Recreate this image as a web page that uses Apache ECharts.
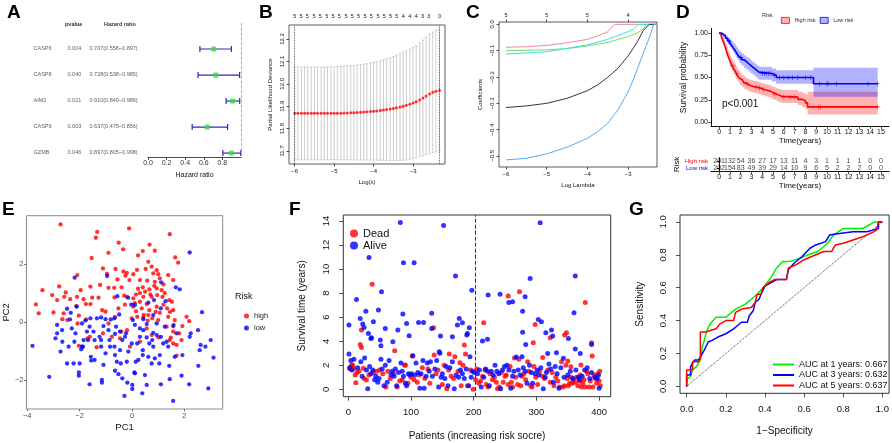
<!DOCTYPE html>
<html>
<head>
<meta charset="utf-8">
<title>Risk signature figure</title>
<script src="https://cdn.jsdelivr.net/npm/echarts@6.0.0/dist/echarts.min.js"></script>
<style>
  html, body { margin: 0; padding: 0; background: #fff; }
  #main { width: 892px; height: 443px; }
</style>
</head>
<body>
<div id="main"></div>
<script type="text/javascript">
var FONT = "'Liberation Sans', Arial, Helvetica, sans-serif";

// A: univariate cox
var genes = ['CASP6', 'CASP8', 'AIM2', 'CASP9', 'GZMB'];
var pvals = ['0.004', '0.040', '0.021', '0.003', '0.046'];
var hr = [0.707, 0.728, 0.910, 0.637, 0.897];
var hrLow = [0.558, 0.538, 0.840, 0.475, 0.805];
var hrHigh = [0.897, 0.985, 0.986, 0.856, 0.998];
var hrTicks = [0, 0.2, 0.4, 0.6, 0.8];

// B: cv.glmnet deviance
var logLambdaB = [-6.00,-5.92,-5.83,-5.75,-5.67,-5.58,-5.50,-5.42,-5.33,-5.25,-5.17,-5.08,-5.00,-4.92,-4.83,-4.75,-4.67,-4.58,-4.50,-4.42,-4.33,-4.25,-4.17,-4.08,-4.00,-3.92,-3.83,-3.75,-3.67,-3.58,-3.50,-3.42,-3.33,-3.25,-3.17,-3.08,-3.00,-2.92,-2.83,-2.75,-2.67,-2.58,-2.50,-2.42,-2.33];
var meanB = [11.868,11.868,11.868,11.868,11.868,11.868,11.868,11.868,11.868,11.868,11.868,11.869,11.869,11.869,11.869,11.870,11.870,11.871,11.871,11.872,11.873,11.874,11.875,11.876,11.878,11.879,11.881,11.883,11.885,11.887,11.890,11.893,11.896,11.900,11.904,11.909,11.914,11.920,11.928,11.937,11.946,11.955,11.962,11.967,11.970];
var sdB = [0.207,0.207,0.207,0.207,0.207,0.207,0.207,0.207,0.207,0.207,0.207,0.207,0.207,0.208,0.208,0.209,0.209,0.210,0.211,0.212,0.213,0.214,0.215,0.217,0.218,0.220,0.222,0.224,0.227,0.229,0.232,0.235,0.238,0.241,0.244,0.246,0.247,0.250,0.253,0.258,0.263,0.267,0.269,0.271,0.272];
var topLambdaB = [-6.00,-5.84,-5.68,-5.51,-5.35,-5.19,-5.03,-4.87,-4.70,-4.54,-4.38,-4.22,-4.06,-3.89,-3.73,-3.57,-3.41,-3.25,-3.08,-2.92,-2.76,-2.60,-2.33];
var topDfB = [5,5,5,5,5,5,5,5,5,5,5,5,5,5,5,5,5,4,4,4,3,3,0];
var lambdaMinB = -6.00;
var lambda1seB = -2.33;

// C: coefficient paths
var pathBlack = [[-6,-0.316],[-5.5,-0.310],[-5,-0.300],[-4.5,-0.281],[-4,-0.252],[-3.75,-0.230],[-3.5,-0.201],[-3.25,-0.167],[-3,-0.120],[-2.875,-0.091],[-2.75,-0.060],[-2.63,-0.024],[-2.48,0],[-2.29,0]];
var pathPink = [[-6,-0.087],[-5.5,-0.085],[-5,-0.080],[-4.5,-0.070],[-4,-0.057],[-3.75,-0.044],[-3.5,-0.028],[-3.33,0],[-2.29,0]];
var pathGreen = [[-6,-0.100],[-5,-0.097],[-4.5,-0.092],[-4,-0.082],[-3.5,-0.068],[-3,-0.047],[-2.75,-0.030],[-2.63,-0.019],[-2.55,0],[-2.29,0]];
var pathBlue = [[-6,-0.515],[-5.5,-0.509],[-5,-0.492],[-4.5,-0.467],[-4,-0.433],[-3.75,-0.408],[-3.5,-0.376],[-3.25,-0.325],[-3,-0.256],[-2.875,-0.211],[-2.75,-0.161],[-2.63,-0.110],[-2.5,-0.060],[-2.37,0],[-2.29,0]];
var pathCyan = [[-6,-0.113],[-5,-0.104],[-4.5,-0.091],[-4,-0.078],[-3.5,-0.057],[-3.25,-0.042],[-3,-0.028],[-2.875,-0.019],[-2.75,0],[-2.29,0]];
var topLambdaC = [-6, -5, -4, -3];
var topDfC = [5, 5, 5, 4];

// D: Kaplan-Meier
var highKM = [[0,1],[0.1,0.985],[0.2,0.96],[0.3,0.93],[0.4,0.9],[0.5,0.865],[0.6,0.83],[0.7,0.79],[0.8,0.75],[0.9,0.72],[1.0,0.69],[1.1,0.66],[1.2,0.63],[1.35,0.60],[1.5,0.57],[1.6,0.545],[1.75,0.515],[1.9,0.49],[2.0,0.475],[2.15,0.455],[2.3,0.44],[2.5,0.425],[2.7,0.41],[2.9,0.40],[3.2,0.39],[3.6,0.38],[3.9,0.365],[4.2,0.355],[4.5,0.345],[4.8,0.33],[5.0,0.315],[5.3,0.305],[5.5,0.29],[5.8,0.28],[7.3,0.255],[7.7,0.24],[8.0,0.215],[8.2,0.17],[14.7,0.17]];
var highLower = [1,0.97,0.93,0.90,0.86,0.82,0.78,0.74,0.70,0.66,0.63,0.60,0.57,0.54,0.50,0.48,0.45,0.425,0.41,0.39,0.375,0.36,0.345,0.335,0.325,0.315,0.30,0.29,0.28,0.265,0.25,0.24,0.225,0.215,0.19,0.17,0.145,0.085,0.085];
var highUpper = [1,1,0.99,0.97,0.94,0.91,0.88,0.85,0.81,0.78,0.75,0.73,0.70,0.67,0.64,0.615,0.585,0.56,0.545,0.525,0.51,0.495,0.48,0.47,0.46,0.45,0.435,0.425,0.415,0.405,0.39,0.38,0.37,0.36,0.34,0.33,0.31,0.34,0.34];
var lowKM = [[0,1],[0.2,0.985],[0.4,0.965],[0.6,0.94],[0.8,0.91],[1.0,0.885],[1.15,0.86],[1.3,0.835],[1.45,0.81],[1.6,0.78],[1.75,0.75],[1.9,0.725],[2.1,0.70],[2.3,0.68],[2.5,0.66],[2.7,0.64],[2.9,0.62],[3.1,0.60],[3.3,0.58],[3.5,0.56],[3.7,0.545],[4.9,0.525],[5.3,0.50],[8.75,0.43],[14.7,0.43]];
var lowLower = [1,0.965,0.94,0.91,0.87,0.84,0.81,0.78,0.75,0.72,0.69,0.66,0.635,0.61,0.59,0.57,0.55,0.53,0.51,0.49,0.475,0.455,0.43,0.285,0.285];
var lowUpper = [1,1,0.99,0.975,0.95,0.93,0.91,0.89,0.87,0.84,0.815,0.79,0.77,0.75,0.73,0.715,0.695,0.675,0.655,0.635,0.62,0.60,0.58,0.61,0.61];
var highCensor = [[1.25,0.63],[1.65,0.545],[2.6,0.425],[3.4,0.39],[3.75,0.38],[4.1,0.365],[5.15,0.315],[6.0,0.28],[6.6,0.28],[7.0,0.28],[9.2,0.17],[9.4,0.17],[14.7,0.17]];
var lowCensor = [[0.9,0.91],[2.0,0.725],[4.0,0.545],[4.2,0.545],[4.4,0.545],[4.6,0.545],[4.8,0.545],[5.1,0.525],[5.6,0.50],[6.0,0.50],[6.4,0.50],[6.8,0.50],[7.3,0.50],[8.0,0.50],[8.5,0.50],[9.3,0.43],[10.0,0.43],[10.1,0.43],[10.9,0.43],[13.8,0.43],[14.7,0.43]];
var riskTimes = [0,1,2,3,4,5,6,7,8,9,10,11,12,13,14,15];
var highAtRisk = [201,132,54,36,27,17,13,11,4,3,1,1,1,1,0,0];
var lowAtRisk = [202,154,83,49,39,29,14,10,9,6,5,2,2,2,0,0];

// E: PCA
var highPts = [[-2.73,3.37],[-0.11,3.23],[-1.33,3.11],[-1.38,2.91],[1.44,3.03],[-0.51,2.74],[0.67,2.67],[-0.34,2.51],[0.41,2.45],[0.87,2.46],[-0.90,2.39],[0.23,2.30],[-1.54,2.21],[1.65,2.23],[1.76,2.05],[0.62,2.08],[0.75,1.91],[-1.11,1.85],[-0.63,1.83],[-2.09,1.62],[-0.96,1.66],[-0.33,1.74],[-0.20,1.70],[-0.25,1.60],[0.19,1.80],[0.52,1.83],[0.94,1.79],[1.38,1.62],[0.81,1.68],[1.06,1.51],[-0.56,1.47],[0.30,1.45],[0.58,1.43],[0.87,1.39],[1.57,1.45],[-2.78,1.23],[-3.42,1.10],[-1.96,1.10],[-0.90,1.18],[-0.68,1.18],[0.23,1.15],[0.41,1.20],[0.66,1.13],[0.94,1.16],[1.13,1.10],[-2.53,1.02],[-2.59,0.87],[-2.10,0.87],[-2.36,0.79],[-1.85,0.79],[-1.52,0.84],[-1.28,0.84],[-0.67,0.85],[-0.30,0.91],[-0.20,0.87],[0.05,0.82],[0.43,0.87],[0.75,0.87],[0.96,0.93],[1.16,0.87],[1.42,0.76],[1.52,0.70],[-3.67,0.61],[-3.56,0.30],[-3.00,0.33],[-2.66,0.10],[-1.76,0.62],[-1.59,0.62],[-2.13,0.55],[-1.14,0.41],[-1.01,0.36],[-0.52,0.47],[-0.27,0.60],[0.05,0.53],[0.15,0.37],[0.37,0.47],[0.56,0.62],[0.66,0.41],[0.94,0.53],[1.06,0.32],[1.34,0.47],[1.57,0.41],[-2.03,0.22],[-2.47,0.07],[-1.75,0.09],[-0.65,0.18],[-0.01,0.13],[0.20,0.18],[0.43,0.16],[0.62,0.24],[0.77,0.13],[1.00,0.07],[1.38,0.18],[1.63,0.07],[2.08,0.18],[2.18,0.03],[1.92,-0.14],[1.59,-0.10],[-2.08,-0.05],[-0.90,-0.05],[-0.19,-0.28],[-1.61,-0.51],[-1.70,-0.56],[-1.11,-0.39],[-0.77,-0.51],[-0.46,-0.56],[-0.41,-0.33],[0.30,-0.68],[0.75,-0.45],[1.01,-0.53],[1.44,-0.62],[1.57,-0.74],[1.80,-0.39],[1.70,-0.79],[-2.03,-0.82],[-1.35,-0.87],[1.48,-0.54],[1.70,-1.16],[1.89,-0.62],[-0.08,-0.85],[-2.61,0.30],[-1.59,1.22],[-1.22,1.28],[-2.86,0.76],[-3.05,0.93],[0.56,-0.22],[1.32,-0.16],[1.57,-0.33],[0.30,1.00],[0.50,1.05],[0.70,0.95],[0.85,1.25],[1.20,1.30],[0.10,0.65],[0.30,0.70],[0.90,0.35],[1.20,0.60],[1.45,0.35],[0.45,0.25],[0.60,0.05],[-0.40,1.20],[-0.10,1.45],[0.05,1.65],[1.00,1.65],[1.25,1.00],[0.15,0.95]];
var lowPts = [[2.20,2.40],[-2.19,1.53],[-0.95,1.59],[1.11,1.37],[1.67,1.20],[1.82,1.13],[-0.56,0.89],[-0.15,0.84],[0.84,0.76],[1.28,0.72],[2.67,0.34],[-2.48,0.46],[-2.11,0.53],[-2.34,0.32],[-2.37,0.09],[-2.86,-0.10],[-2.92,-0.56],[-3.80,-0.82],[-2.66,-0.68],[-2.73,-1.02],[-3.16,-1.89],[-2.48,-1.43],[-2.23,-1.43],[-2.00,-1.43],[-2.03,-1.74],[-2.03,-1.85],[-1.62,-2.15],[-1.15,-2.00],[-1.15,-2.09],[-1.56,-1.33],[-1.57,-1.20],[-1.43,-1.31],[-1.09,-1.48],[-1.01,-1.08],[-2.16,-0.39],[-2.20,-0.68],[-1.91,-0.85],[-1.94,-0.94],[-1.85,-0.62],[-1.72,-0.33],[-1.62,-0.16],[-1.47,-0.33],[-1.34,0.13],[-1.18,0.16],[-1.24,-0.51],[-1.18,-0.62],[-1.43,-0.62],[-1.18,-0.85],[-0.86,-0.62],[-0.84,-0.85],[-0.67,-0.85],[-0.65,-1.14],[-0.46,-0.97],[-0.58,-1.37],[-0.43,-1.43],[-0.65,-1.68],[-0.52,-1.80],[-0.37,-1.94],[-0.18,-2.09],[-0.29,-2.55],[0.01,-2.17],[0.01,-2.31],[0.39,-2.46],[0.56,-2.17],[0.09,-1.74],[0.11,-1.77],[0.49,-1.83],[0.75,-1.43],[1.04,-1.43],[1.10,-2.15],[1.57,-2.72],[1.44,-1.97],[1.89,-1.85],[2.18,-2.15],[2.53,-1.51],[2.91,-2.29],[3.11,-1.23],[3.00,-0.62],[2.80,-0.85],[2.58,-0.97],[2.62,-0.79],[2.52,-0.28],[2.24,-0.39],[2.20,-0.51],[1.92,-1.14],[1.42,-1.51],[0.87,-1.25],[1.06,-1.14],[0.62,-1.20],[0.41,-1.14],[0.41,-0.97],[0.24,-1.31],[0.14,-1.37],[-0.20,-1.37],[-0.14,-1.02],[-0.01,-0.74],[0.20,-0.74],[0.30,-0.51],[0.56,-0.53],[0.81,-0.37],[1.10,-0.51],[1.32,-0.68],[1.19,-0.74],[1.38,-0.85],[1.70,-0.39],[1.57,-0.14],[0.77,-0.62],[0.66,-0.74],[0.30,-0.22],[0.11,-0.10],[0.03,0.07],[0.56,-0.07],[0.43,0.10],[0.81,0.24],[0.94,-0.05],[1.25,-0.16],[1.10,0.47],[0.62,0.67],[-0.03,0.60],[0.11,0.59],[-0.49,0.26],[-0.67,0.13],[-0.81,0.09],[-0.61,-0.16],[-0.90,-0.28],[-0.46,-0.33],[-0.65,-0.41],[-0.27,-0.51],[-0.37,-0.62],[-1.09,-0.14],[-1.01,0.10],[-1.59,0.13],[-1.78,0.05],[-1.91,-0.05],[-1.68,-0.62],[-1.87,-0.85],[-2.42,-0.85],[-2.30,-0.22],[-2.86,-0.39],[-2.67,-0.28],[0.81,-0.85],[-0.23,-0.39],[1.63,-1.20],[0.94,-0.45],[0.43,-0.28]];

// F: survival status by risk rank
var deadPts = [[38,8.75],[19,3.74],[21,3.49],[21,4.93],[12,0.55],[11,1.19],[9,1.75],[7,2.02],[24,1.75],[29,0.78],[74,3.21],[91,2.02],[102,2.77],[136,5.12],[137,2.85],[161,2.94],[170,2.71],[178,2.22],[185,3.68],[187,2.94],[216,5.54],[255,7.76],[273,8.12],[295,3.88],[298,5.40],[310,2.66],[322,4.29],[345,4.52],[348,4.71],[378,7.23],[388,3.88],[389,2.77],[350,2.35],[355,1.88],[371,2.02],
  [3,1.7],[5,2.0],[14,1.4],[17,1.5],[25,0.9],[33,1.2],[40,1.4],[45,1.5],[50,1.6],[55,1.3],[60,0.2],[63,1.5],[67,0.9],[72,1.3],[78,0.2],[82,0.7],[86,0.8],[90,2.0],[95,0.5],[100,1.0],[105,0.8],[110,0.6],[113,1.2],[118,1.8],[122,0.9],[127,1.7],[130,0.5],[140,1.3],[143,1.6],[150,0.4],[153,2.0],[157,0.05],[160,1.6],[164,1.1],[168,0.9],[175,1.5],[180,0.3],[183,2.0],[190,0.3],[195,1.6],[199,0.0],[203,0.8],
  [205,1.7],[208,0.5],[211,0.7],[214,1.1],[218,1.6],[220,0.4],[223,0.2],[226,1.3],[230,0.8],[233,1.0],[236,0.6],[238,0.05],[241,0.2],[244,1.4],[247,0.6],[250,1.1],[252,1.2],[255,0.4],[258,1.9],[260,0.6],[262,0.2],[265,2.6],[267,1.0],[270,0.4],[272,2.5],[275,0.3],[277,1.1],[280,1.3],[283,0.8],[286,2.3],[288,1.5],[291,0.3],[293,0.2],[296,1.9],[299,1.0],[302,0.4],[305,1.5],[310,1.1],[313,0.9],[318,1.6],[322,0.6],[325,1.4],[328,0.3],[331,1.0],[334,0.7],[337,0.2],[340,2.3],[342,0.2],[345,0.3],[347,2.0],[349,0.9],[351,0.3],[353,0.5],[355,1.0],[357,0.5],[359,0.8],[361,0.6],[364,1.0],[366,0.3],[368,0.7],[370,1.2],[372,0.2],[374,0.5],[376,0.8],[378,0.2],[380,1.5],[382,1.3],[384,0.2],[386,0.7],[390,0.2],[392,1.2],[394,0.9],[396,0.5],[398,1.3],[400,0.7],[401,1.5],[402,0.3]];
var alivePts = [[1,5.35],[1,2.94],[13,7.48],[19,5.90],[23,5.43],[25,5.15],[28,6.50],[33,10.97],[32,4.65],[36,4.24],[37,4.30],[40,5.62],[48,6.60],[51,4.10],[52,3.63],[53,8.12],[59,5.07],[71,3.96],[79,4.93],[83,13.88],[87,6.26],[88,10.53],[93,5.48],[97,4.46],[105,10.53],[112,5.57],[120,5.57],[133,6.32],[133,5.07],[145,3.13],[147,4.43],[152,13.63],[166,4.38],[171,9.42],[174,5.35],[177,5.90],[182,5.54],[190,4.65],[193,5.12],[194,2.71],[197,8.25],[189,4.52],[214,4.02],[222,4.16],[223,7.84],[242,7.92],[256,7.23],[262,7.28],[278,4.74],[278,6.50],[282,7.70],[283,3.74],[290,9.22],[303,5.82],[308,5.62],[306,13.85],[315,4.70],[318,2.99],[324,4.93],[326,4.43],[332,3.05],[343,2.58],[351,4.24],[360,6.37],[362,9.42],[362,3.35],[370,2.99],[388,3.74],[277,2.71],
  [2,1.8],[4,2.4],[6,1.6],[9,2.5],[15,1.8],[20,2.3],[22,1.1],[26,2.6],[29,1.6],[31,0.05],[34,1.9],[36,1.3],[39,1.6],[42,0.8],[44,1.1],[47,0.6],[49,0.9],[52,2.5],[54,1.7],[57,0.3],[59,2.0],[62,0.6],[65,2.4],[68,1.2],[70,1.5],[73,1.1],[75,1.7],[77,0.3],[80,1.4],[84,2.2],[86,1.5],[88,1.1],[91,0.5],[93,0.3],[96,1.3],[98,1.2],[101,1.3],[103,2.8],[106,1.2],[108,2.2],[111,1.4],[114,0.1],[116,1.3],[119,2.4],[121,0.1],[124,1.1],[126,2.2],[129,1.5],[131,2.3],[134,1.1],[138,1.7],[141,2.4],[144,0.2],[146,3.0],[148,1.0],[150,1.3],[154,0.9],[156,1.9],[159,0.3],[162,1.8],[166,2.3],[169,0.05],[172,1.2],[176,1.0],[179,1.6],[182,1.3],[185,0.9],[188,1.7],[192,0.3],[196,1.0],[198,1.5],[201,1.4],
  [206,1.3],[209,1.6],[212,0.2],[216,1.0],[219,1.7],[222,1.5],[225,0.3],[228,1.5],[231,1.2],[234,2.0],[237,1.5],[240,1.3],[243,0.05],[246,1.6],[249,1.9],[253,2.0],[256,1.6],[259,0.1],[262,1.1],[264,1.5],[268,2.7],[271,1.6],[274,1.2],[279,1.8],[282,1.5],[285,0.5],[289,2.0],[292,1.4],[294,0.5],[298,1.3],[301,1.6],[304,1.2],[307,1.8],[311,0.05],[314,1.0],[316,1.4],[320,2.1],[323,1.7],[327,0.6],[330,1.9],[333,1.3],[336,0.1],[339,1.8],[344,1.0],[350,1.2],[354,1.5],[358,0.9],[363,1.6],[367,1.0],[369,0.8],[373,1.1],[377,1.6],[381,1.8],[385,0.9],[388,1.4],[393,1.0],[397,0.9],[399,1.2],[400,0.1]];
var cutoffF = 202;

// G: time-dependent ROC
var roc1 = [[0,0],[0,0.04],[0.02,0.06],[0.03,0.10],[0.05,0.12],[0.07,0.16],[0.08,0.24],[0.09,0.28],[0.10,0.33],[0.12,0.38],[0.15,0.42],[0.20,0.42],[0.22,0.44],[0.25,0.47],[0.30,0.50],[0.33,0.53],[0.36,0.56],[0.39,0.60],[0.41,0.63],[0.43,0.66],[0.46,0.72],[0.49,0.76],[0.53,0.76],[0.58,0.78],[0.62,0.80],[0.67,0.82],[0.72,0.87],[0.75,0.92],[0.80,0.96],[0.90,0.96],[0.93,0.98],[0.96,1.0],[1.0,1.0]];
var roc3 = [[0,0],[0,0.07],[0.02,0.07],[0.02,0.12],[0.04,0.16],[0.06,0.16],[0.07,0.18],[0.09,0.22],[0.10,0.22],[0.11,0.27],[0.13,0.28],[0.16,0.30],[0.20,0.32],[0.24,0.35],[0.26,0.37],[0.28,0.39],[0.31,0.39],[0.32,0.43],[0.34,0.46],[0.35,0.51],[0.37,0.53],[0.38,0.56],[0.40,0.61],[0.43,0.63],[0.46,0.65],[0.51,0.65],[0.52,0.71],[0.55,0.75],[0.59,0.79],[0.63,0.84],[0.66,0.86],[0.71,0.88],[0.73,0.92],[0.78,0.93],[0.85,0.94],[0.92,0.94],[0.95,0.95],[0.98,0.96],[0.98,1.0],[1,1]];
var roc5 = [[0,0],[0,0.10],[0.03,0.10],[0.03,0.15],[0.06,0.15],[0.07,0.17],[0.07,0.33],[0.10,0.33],[0.12,0.34],[0.15,0.35],[0.17,0.38],[0.20,0.40],[0.24,0.40],[0.25,0.45],[0.28,0.47],[0.33,0.48],[0.35,0.51],[0.36,0.56],[0.38,0.56],[0.39,0.60],[0.42,0.63],[0.45,0.65],[0.51,0.65],[0.52,0.72],[0.56,0.74],[0.60,0.77],[0.66,0.80],[0.70,0.82],[0.74,0.82],[0.76,0.86],[0.80,0.87],[0.85,0.89],[0.90,0.91],[0.94,0.93],[0.97,0.95],[0.98,1.0],[1,1]];
var rocNames = ['AUC at 1 years: 0.667', 'AUC at 3 years: 0.632', 'AUC at 5 years: 0.637'];
var diagRef = [[0,0],[1,1]];

function neg(v, digits) {
  var s = digits === undefined ? String(v) : v.toFixed(digits);
  return s.replace('-', '\u2212');
}

function valAxis(o) {
  return {
    type: 'value', gridIndex: o.grid, min: o.min, max: o.max,
    position: o.position, inverse: !!o.inverse, show: o.show !== false,
    splitLine: { show: false },
    axisLine: { show: !!o.line, onZero: false, lineStyle: { color: o.lineColor || '#222', width: o.lineWidth || 1 } },
    axisTick: { show: o.tickLen !== 0, customValues: o.ticks, length: o.tickLen || 3, lineStyle: { color: o.tickColor || '#222', width: 0.8 } },
    axisLabel: { customValues: o.labels || o.ticks, formatter: o.fmt, fontSize: o.fs, margin: o.margin, color: o.labelColor || '#111', rotate: o.rotate || 0, fontFamily: FONT },
    name: o.name, nameLocation: 'middle', nameGap: o.nameGap,
    nameTextStyle: { fontSize: o.nfs, color: '#111', fontFamily: FONT }
  };
}

function textColumn(texts, dx) {
  return {
    type: 'scatter', xAxisIndex: 0, yAxisIndex: 0, symbolSize: 1, silent: true,
    itemStyle: { color: 'rgba(0,0,0,0)' },
    data: texts.map(function (t, i) { return { name: t, value: [0, i + 1] }; }),
    label: { show: true, formatter: '{b}', position: [dx, 0], align: 'left', verticalAlign: 'middle', fontSize: 5.5, color: '#333', fontFamily: FONT }
  };
}

function bandSeries(km, lower, upper, color, xi, yi) {
  return {
    type: 'custom', xAxisIndex: xi, yAxisIndex: yi, silent: true, z: 1,
    data: [0],
    renderItem: function (params, api) {
      var top = [], bot = [];
      for (var i = 0; i < km.length - 1; i++) {
        var t0 = km[i][0], t1 = km[i + 1][0];
        top.push(api.coord([t0, upper[i]]), api.coord([t1, upper[i]]));
        bot.push(api.coord([t0, lower[i]]), api.coord([t1, lower[i]]));
      }
      var pts = top.concat(bot.reverse());
      return { type: 'polygon', shape: { points: pts }, style: { fill: color } };
    }
  };
}

function riskRow(counts, row) {
  return {
    type: 'scatter', xAxisIndex: 6, yAxisIndex: 4, symbolSize: 1, silent: true, itemStyle: { color: 'rgba(0,0,0,0)' },
    data: riskTimes.map(function (t, i) { return [t, row, counts[i]]; }),
    label: { show: true, position: 'inside', fontSize: 7, color: '#111', fontFamily: FONT, formatter: function (p) { return p.value[2]; } }
  };
}

var plusSymbol = 'path://M-0.6,-5h1.2v4.4h4.4v1.2h-4.4v4.4h-1.2v-4.4h-4.4v-1.2h4.4z';

var option = {
  animation: false,
  backgroundColor: '#fff',
  textStyle: { fontFamily: FONT },
  grid: [
    { left: 148, top: 23, width: 93, height: 134 },
    { left: 289, top: 25, width: 156, height: 139, show: true, borderColor: '#333', borderWidth: 0.8, backgroundColor: 'transparent' },
    { left: 499, top: 22, width: 158, height: 145, show: true, borderColor: '#333', borderWidth: 0.8, backgroundColor: 'transparent' },
    { left: 711, top: 28.5, width: 178, height: 98 },
    { left: 711, top: 157.5, width: 178, height: 14 },
    { left: 25.7, top: 215.7, width: 197, height: 193.3, show: true, borderColor: '#8a8a8a', borderWidth: 1, backgroundColor: 'transparent' },
    { left: 343.3, top: 215, width: 267.4, height: 181.7, show: true, borderColor: '#333', borderWidth: 1, backgroundColor: 'transparent' },
    { left: 680, top: 215, width: 210, height: 178.3, show: true, borderColor: '#333', borderWidth: 1, backgroundColor: 'transparent' }
  ],
  xAxis: [
    valAxis({ grid: 0, min: 0, max: 1, line: true, lineWidth: 0.8, ticks: hrTicks, tickLen: 3, fmt: function (v) { return v.toFixed(1); }, fs: 7, margin: 3, name: 'Hazard ratio', nameGap: 15, nfs: 7, labelColor: '#333' }),
    valAxis({ grid: 1, min: -6.145, max: -2.19, ticks: [-6, -5, -4, -3], tickLen: 2.5, fmt: function (v) { return neg(v); }, fs: 6, margin: 4, name: 'Log(\u03bb)', nameGap: 15, nfs: 6 }),
    valAxis({ grid: 1, position: 'top', min: -6.145, max: -2.19, ticks: topLambdaB, tickLen: 0, fmt: function (v) {
      for (var i = 0; i < topLambdaB.length; i++) { if (Math.abs(topLambdaB[i] - v) < 1e-6) return String(topDfB[i]); }
      return '';
    }, fs: 5.5, margin: 6 }),
    valAxis({ grid: 2, min: -6.172, max: -2.29, ticks: [-6, -5, -4, -3], tickLen: 2.5, fmt: function (v) { return neg(v); }, fs: 6, margin: 4, name: 'Log Lambda', nameGap: 15, nfs: 6 }),
    valAxis({ grid: 2, position: 'top', min: -6.172, max: -2.29, ticks: topLambdaC, tickLen: 2.5, fmt: function (v) {
      var i = topLambdaC.indexOf(v); return i >= 0 ? String(topDfC[i]) : '';
    }, fs: 5.5, margin: 4 }),
    valAxis({ grid: 3, min: -0.75, max: 15.75, line: true, lineColor: '#111', ticks: riskTimes, tickLen: 2.5, fmt: function (v) { return String(v); }, fs: 7, margin: 2, name: 'Time(years)', nameGap: 9, nfs: 8 }),
    valAxis({ grid: 4, min: -0.75, max: 15.75, line: true, lineColor: '#111', ticks: riskTimes, tickLen: 2.5, fmt: function (v) { return String(v); }, fs: 7, margin: 2, name: 'Time(years)', nameGap: 9, nfs: 8 }),
    valAxis({ grid: 5, min: -4.03, max: 3.46, ticks: [-4, -2, 0, 2], tickLen: 2.5, tickColor: '#555', fmt: function (v) { return neg(v); }, fs: 7.5, margin: 3, labelColor: '#4d4d4d', name: 'PC1', nameGap: 13, nfs: 9.5 }),
    valAxis({ grid: 6, min: -8, max: 418.5, ticks: [0, 100, 200, 300, 400], tickLen: 4, fmt: function (v) { return String(v); }, fs: 9.5, margin: 11, name: 'Patients (increasing risk socre)', nameGap: 35, nfs: 10 }),
    valAxis({ grid: 7, min: -0.034, max: 1.034, ticks: [0, 0.2, 0.4, 0.6, 0.8, 1], tickLen: 4, fmt: function (v) { return v.toFixed(1); }, fs: 9.5, margin: 11, name: '1\u2212Specificity', nameGap: 33, nfs: 10 })
  ],
  yAxis: [
    valAxis({ grid: 0, min: 0, max: 5.15, inverse: true, show: false }),
    valAxis({ grid: 1, min: 11.642, max: 12.2625, ticks: [11.7, 11.8, 11.9, 12.0, 12.1, 12.2], tickLen: 2.5, rotate: 90, fmt: function (v) { return v.toFixed(1); }, fs: 6, margin: 4, name: 'Partial Likelihood Deviance', nameGap: 16, nfs: 6 }),
    valAxis({ grid: 2, min: -0.542, max: 0.009, ticks: [-0.5, -0.4, -0.3, -0.2, -0.1, 0], tickLen: 2.5, rotate: 90, fmt: function (v) { return neg(v, 1); }, fs: 6, margin: 4, name: 'Coefficients', nameGap: 16, nfs: 6 }),
    valAxis({ grid: 3, min: -0.05, max: 1.05, line: true, lineColor: '#111', ticks: [0, 0.25, 0.5, 0.75, 1], tickLen: 2.5, fmt: function (v) { return v.toFixed(2); }, fs: 7, margin: 3, name: 'Survival probability', nameGap: 23, nfs: 8.5 }),
    {
      type: 'category', gridIndex: 4, data: ['Low risk', 'High risk'],
      axisLine: { show: true, lineStyle: { color: '#111' } },
      axisTick: { show: true, length: 2.5, alignWithLabel: true, interval: 0, lineStyle: { color: '#111' } },
      axisLabel: {
        margin: 3, fontSize: 6, fontFamily: FONT, interval: 0, hideOverlap: false,
        formatter: function (v) { return v === 'High risk' ? '{h|' + v + '}' : '{l|' + v + '}'; },
        rich: { h: { color: '#ff0000', fontSize: 6, fontFamily: FONT }, l: { color: '#0000ff', fontSize: 6, fontFamily: FONT } }
      },
      name: 'Risk', nameLocation: 'middle', nameGap: 29, nameTextStyle: { fontSize: 8, color: '#111', fontFamily: FONT }
    },
    valAxis({ grid: 5, min: -3.0, max: 3.67, ticks: [-2, 0, 2], tickLen: 2.5, tickColor: '#555', fmt: function (v) { return neg(v); }, fs: 7.5, margin: 3, labelColor: '#4d4d4d', name: 'PC2', nameGap: 11, nfs: 9.5 }),
    valAxis({ grid: 6, min: -0.61, max: 14.5, ticks: [0, 2, 4, 6, 8, 10, 12, 14], tickLen: 4, rotate: 90, fmt: function (v) { return String(v); }, fs: 9.5, margin: 12, name: 'Survival time (years)', nameGap: 36, nfs: 10 }),
    valAxis({ grid: 7, min: -0.042, max: 1.042, ticks: [0, 0.2, 0.4, 0.6, 0.8, 1], tickLen: 4, rotate: 90, fmt: function (v) { return v.toFixed(1); }, fs: 9.5, margin: 12, name: 'Sensitivity', nameGap: 35, nfs: 10 })
  ],
  legend: [
    {
      left: 776, top: 12, itemWidth: 8, itemHeight: 6, itemGap: 4, selectedMode: false,
      textStyle: { fontSize: 5.5, color: '#333', fontFamily: FONT },
      data: [
        { name: 'High risk', icon: 'rect', itemStyle: { color: 'rgba(255,0,0,0.3)', borderColor: '#ff0000', borderWidth: 0.8 } },
        { name: 'Low risk', icon: 'rect', itemStyle: { color: 'rgba(0,0,255,0.3)', borderColor: '#0000ff', borderWidth: 0.8 } }
      ]
    },
    {
      left: 239, top: 307, orient: 'vertical', icon: 'circle', itemWidth: 5, itemHeight: 5, itemGap: 4, selectedMode: false,
      textStyle: { fontSize: 7.5, color: '#222', fontFamily: FONT },
      data: ['high', 'low']
    },
    {
      left: 345, top: 223, orient: 'vertical', icon: 'circle', itemWidth: 8, itemHeight: 8, itemGap: 1, selectedMode: false,
      textStyle: { fontSize: 11, color: '#111', fontFamily: FONT },
      data: ['Dead', 'Alive']
    },
    {
      left: 768, top: 355, orient: 'vertical', icon: 'rect', itemWidth: 21, itemHeight: 2, itemGap: 1.5, selectedMode: false,
      textStyle: { fontSize: 9, color: '#111', fontFamily: FONT },
      data: rocNames
    }
  ],
  graphic: [
    { type: 'text', x: 7, y: 3, style: { text: 'A', font: 'bold 19px ' + FONT, fill: '#000' } },
    { type: 'text', x: 259, y: 3, style: { text: 'B', font: 'bold 19px ' + FONT, fill: '#000' } },
    { type: 'text', x: 466, y: 3, style: { text: 'C', font: 'bold 19px ' + FONT, fill: '#000' } },
    { type: 'text', x: 676, y: 3, style: { text: 'D', font: 'bold 19px ' + FONT, fill: '#000' } },
    { type: 'text', x: 2, y: 200, style: { text: 'E', font: 'bold 19px ' + FONT, fill: '#000' } },
    { type: 'text', x: 289, y: 200, style: { text: 'F', font: 'bold 19px ' + FONT, fill: '#000' } },
    { type: 'text', x: 629, y: 200, style: { text: 'G', font: 'bold 19px ' + FONT, fill: '#000' } },
    { type: 'text', x: 65, y: 21, style: { text: 'pvalue', font: 'bold 5.5px ' + FONT, fill: '#333' } },
    { type: 'text', x: 104, y: 21, style: { text: 'Hazard ratio', font: 'bold 5.5px ' + FONT, fill: '#333' } },
    { type: 'text', x: 762, y: 12.5, style: { text: 'Risk', font: '5.5px ' + FONT, fill: '#333' } },
    { type: 'text', x: 722, y: 99, style: { text: 'p<0.001', font: '10px ' + FONT, fill: '#111' } },
    { type: 'text', x: 235, y: 292, style: { text: 'Risk', font: '9px ' + FONT, fill: '#111' } }
  ],
  series: [
    // A
    {
      type: 'custom', xAxisIndex: 0, yAxisIndex: 0, z: 2,
      data: genes.map(function (g, i) { return [hrLow[i], hrHigh[i], i + 1]; }),
      encode: { x: [0, 1], y: 2 },
      renderItem: function (params, api) {
        var a = api.coord([api.value(0), api.value(2)]);
        var b = api.coord([api.value(1), api.value(2)]);
        var h = 3, st = { stroke: '#2b2bb3', lineWidth: 1.2 };
        return { type: 'group', children: [
          { type: 'line', shape: { x1: a[0], y1: a[1], x2: b[0], y2: b[1] }, style: st },
          { type: 'line', shape: { x1: a[0], y1: a[1] - h, x2: a[0], y2: a[1] + h }, style: st },
          { type: 'line', shape: { x1: b[0], y1: b[1] - h, x2: b[0], y2: b[1] + h }, style: st }
        ] };
      }
    },
    {
      type: 'scatter', xAxisIndex: 0, yAxisIndex: 0, z: 3, symbol: 'rect', symbolSize: 5,
      itemStyle: { color: '#33e033' },
      data: genes.map(function (g, i) { return [hr[i], i + 1]; }),
      markLine: { silent: true, symbol: 'none', label: { show: false }, lineStyle: { type: 'dashed', color: '#999', width: 0.8 }, data: [{ xAxis: 1 }] }
    },
    textColumn(genes, -114),
    textColumn(pvals, -80),
    textColumn(genes.map(function (g, i) { return hr[i].toFixed(3) + '(' + hrLow[i].toFixed(3) + '~' + hrHigh[i].toFixed(3) + ')'; }), -58),

    // B
    {
      type: 'custom', xAxisIndex: 1, yAxisIndex: 1, z: 1,
      data: logLambdaB.map(function (x, i) { return [x, meanB[i] - sdB[i], meanB[i] + sdB[i]]; }),
      encode: { x: 0, y: [1, 2] },
      renderItem: function (params, api) {
        var a = api.coord([api.value(0), api.value(1)]);
        var b = api.coord([api.value(0), api.value(2)]);
        var w = 1.2, st = { stroke: '#b8b8b8', lineWidth: 0.7 };
        return { type: 'group', children: [
          { type: 'line', shape: { x1: a[0], y1: a[1], x2: b[0], y2: b[1] }, style: st },
          { type: 'line', shape: { x1: a[0] - w, y1: a[1], x2: a[0] + w, y2: a[1] }, style: st },
          { type: 'line', shape: { x1: b[0] - w, y1: b[1], x2: b[0] + w, y2: b[1] }, style: st }
        ] };
      }
    },
    {
      type: 'scatter', xAxisIndex: 1, yAxisIndex: 1, z: 3, symbolSize: 3,
      itemStyle: { color: '#ff0000' },
      data: logLambdaB.map(function (x, i) { return [x, meanB[i]]; }),
      markLine: { silent: true, symbol: 'none', label: { show: false }, lineStyle: { type: 'dotted', color: '#333', width: 0.8 }, data: [{ xAxis: lambdaMinB }, { xAxis: lambda1seB }] }
    },

    // C
    { type: 'line', xAxisIndex: 3, yAxisIndex: 2, data: pathPink, symbol: 'none', lineStyle: { color: '#f08a9a', width: 1 } },
    { type: 'line', xAxisIndex: 3, yAxisIndex: 2, data: pathGreen, symbol: 'none', lineStyle: { color: '#7ad86c', width: 1 } },
    { type: 'line', xAxisIndex: 3, yAxisIndex: 2, data: pathCyan, symbol: 'none', lineStyle: { color: '#3fe0e3', width: 1 } },
    { type: 'line', xAxisIndex: 3, yAxisIndex: 2, data: pathBlack, symbol: 'none', lineStyle: { color: '#333333', width: 1 } },
    { type: 'line', xAxisIndex: 3, yAxisIndex: 2, data: pathBlue, symbol: 'none', lineStyle: { color: '#55b0ee', width: 1 } },

    // D
    bandSeries(highKM, highLower, highUpper, 'rgba(255,0,0,0.3)', 5, 3),
    bandSeries(lowKM, lowLower, lowUpper, 'rgba(0,0,255,0.3)', 5, 3),
    { name: 'High risk', type: 'line', step: 'end', xAxisIndex: 5, yAxisIndex: 3, data: highKM, symbol: 'none', z: 3, lineStyle: { color: '#ff0000', width: 1.6 }, itemStyle: { color: '#ff0000' } },
    { name: 'Low risk', type: 'line', step: 'end', xAxisIndex: 5, yAxisIndex: 3, data: lowKM, symbol: 'none', z: 3, lineStyle: { color: '#0000ff', width: 1.6 }, itemStyle: { color: '#0000ff' } },
    { type: 'scatter', xAxisIndex: 5, yAxisIndex: 3, data: highCensor, symbol: plusSymbol, symbolSize: 5, z: 4, itemStyle: { color: '#ff0000' } },
    { type: 'scatter', xAxisIndex: 5, yAxisIndex: 3, data: lowCensor, symbol: plusSymbol, symbolSize: 5, z: 4, itemStyle: { color: '#0000ff' } },
    riskRow(highAtRisk, 1),
    riskRow(lowAtRisk, 0),

    // E
    { name: 'high', type: 'scatter', xAxisIndex: 7, yAxisIndex: 5, data: highPts, symbolSize: 4.3, itemStyle: { color: '#ff0000' } },
    { name: 'low', type: 'scatter', xAxisIndex: 7, yAxisIndex: 5, data: lowPts, symbolSize: 4.3, itemStyle: { color: '#0000ff' } },

    // F
    {
      name: 'Dead', type: 'scatter', xAxisIndex: 8, yAxisIndex: 6, data: deadPts, symbolSize: 5, itemStyle: { color: '#ff0000' },
      markLine: { silent: true, symbol: 'none', label: { show: false }, lineStyle: { type: 'dashed', color: '#333', width: 1 }, data: [{ xAxis: cutoffF }] }
    },
    { name: 'Alive', type: 'scatter', xAxisIndex: 8, yAxisIndex: 6, data: alivePts, symbolSize: 5, itemStyle: { color: '#0000ff' } },

    // G
    { type: 'line', xAxisIndex: 9, yAxisIndex: 7, data: diagRef, symbol: 'none', silent: true, lineStyle: { type: 'dotted', color: '#444', width: 1 } },
    { name: rocNames[0], type: 'line', xAxisIndex: 9, yAxisIndex: 7, data: roc1, symbol: 'none', lineStyle: { color: '#00ee00', width: 1.5 }, itemStyle: { color: '#00ee00' } },
    { name: rocNames[1], type: 'line', xAxisIndex: 9, yAxisIndex: 7, data: roc3, symbol: 'none', lineStyle: { color: '#0000ff', width: 1.5 }, itemStyle: { color: '#0000ff' } },
    { name: rocNames[2], type: 'line', xAxisIndex: 9, yAxisIndex: 7, data: roc5, symbol: 'none', lineStyle: { color: '#ff0000', width: 1.5 }, itemStyle: { color: '#ff0000' } }
  ]
};

var myChart = echarts.init(document.getElementById('main'));
myChart.setOption(option);
</script>
</body>
</html>
